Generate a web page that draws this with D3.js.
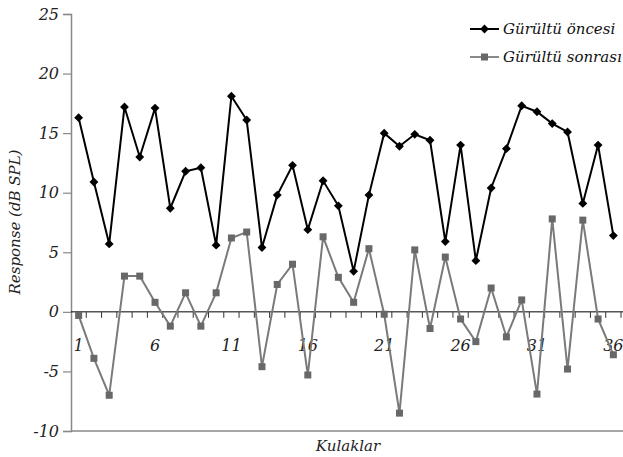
<!DOCTYPE html>
<html>
<head>
<meta charset="utf-8">
<script src="https://cdn.jsdelivr.net/npm/d3@7"></script>
<style>
  body { margin: 0; background: #fff; }
  svg text { font-family: "DejaVu Serif", serif !important; font-style: italic; }
</style>
</head>
<body>
<div id="chart"></div>
<script>
// ears 1..36
const kulaklar = d3.range(1, 37);
const oncesi = [16.3, 10.9, 5.7, 17.2, 13.0, 17.1, 8.7, 11.8, 12.1, 5.6,
  18.1, 16.1, 5.4, 9.8, 12.3, 6.9, 11.0, 8.9, 3.4, 9.8,
  15.0, 13.9, 14.9, 14.4, 5.9, 14.0, 4.3, 10.4, 13.7, 17.3,
  16.8, 15.8, 15.1, 9.1, 14.0, 6.4];
const sonrasi = [-0.3, -3.9, -7.0, 3.0, 3.0, 0.8, -1.2, 1.6, -1.2, 1.6,
  6.2, 6.7, -4.6, 2.3, 4.0, -5.3, 6.3, 2.9, 0.8, 5.3,
  -0.2, -8.5, 5.2, -1.4, 4.6, -0.6, -2.5, 2.0, -2.1, 1.0,
  -6.9, 7.8, -4.8, 7.7, -0.6, -3.6];
const yTicks = [25, 20, 15, 10, 5, 0, -5, -10];
const xLabels = [1, 6, 11, 16, 21, 26, 31, 36];
const seriesNames = ["Gürültü öncesi", "Gürültü sonrası"];

const W = 623, H = 457;
const svg = d3.select("#chart").append("svg")
  .attr("width", W).attr("height", H);

const x = d3.scaleBand().domain(kulaklar).range([71, 621]);
const y = d3.scaleLinear().domain([-10, 25]).range([431, 14]);
const grey = "#686868", greyLine = "#7a7a7a";

// y axis
svg.append("g")
  .attr("transform", "translate(71,0)")
  .call(d3.axisLeft(y).tickValues(yTicks).tickSize(8).tickPadding(4)
    .tickFormat(d => d))
  .call(g => {
    g.attr("font-family", null);
    g.select(".domain").attr("stroke", "#888").attr("stroke-width", 1.5);
    g.selectAll(".tick line").attr("stroke", "#888").attr("stroke-width", 1.2);
    g.selectAll(".tick text").attr("font-size", 16).attr("fill", "#222");
  });

// bottom frame line
svg.append("line")
  .attr("x1", 71).attr("x2", W).attr("y1", y(-10)).attr("y2", y(-10))
  .attr("stroke", "#888").attr("stroke-width", 1.5);

// zero line with category ticks
svg.append("line")
  .attr("x1", 71).attr("x2", W).attr("y1", y(0)).attr("y2", y(0))
  .attr("stroke", "#000").attr("stroke-width", 1);
svg.selectAll(".ctick")
  .data(kulaklar)
  .enter().append("line")
  .attr("class", "ctick")
  .attr("x1", d => x(d) + x.bandwidth())
  .attr("x2", d => x(d) + x.bandwidth())
  .attr("y1", y(0)).attr("y2", y(0) + 6)
  .attr("stroke", "#333").attr("stroke-width", 1);

svg.selectAll(".xlab")
  .data(xLabels)
  .enter().append("text")
  .attr("class", "xlab")
  .attr("x", d => x(d) + x.bandwidth() / 2)
  .attr("y", y(0) + 39)
  .attr("text-anchor", "middle")
  .attr("font-size", 16).attr("fill", "#222")
  .text(d => d);

const cx = d => x(d) + x.bandwidth() / 2;
const line = d3.line().x((d, i) => cx(kulaklar[i])).y(d => y(d));

// after noise (grey squares)
svg.append("path").datum(sonrasi)
  .attr("d", line).attr("fill", "none")
  .attr("stroke", greyLine).attr("stroke-width", 2);
svg.selectAll(".sq")
  .data(sonrasi)
  .enter().append("rect")
  .attr("class", "sq")
  .attr("x", (d, i) => cx(kulaklar[i]) - 3.5)
  .attr("y", d => y(d) - 3.5)
  .attr("width", 7).attr("height", 7)
  .attr("fill", grey);

// before noise (black diamonds)
const diamond = d3.symbol().type(d3.symbolDiamond2).size(50);
svg.append("path").datum(oncesi)
  .attr("d", line).attr("fill", "none")
  .attr("stroke", "#000").attr("stroke-width", 2);
svg.selectAll(".dm")
  .data(oncesi)
  .enter().append("path")
  .attr("class", "dm")
  .attr("d", diamond)
  .attr("transform", (d, i) => "translate(" + cx(kulaklar[i]) + "," + y(d) + ")")
  .attr("fill", "#000");

// legend
const leg = svg.append("g");
[0, 1].forEach(i => {
  const ly = 29 + i * 28;
  const col = i === 0 ? "#000" : grey;
  leg.append("line")
    .attr("x1", 470).attr("x2", 499).attr("y1", ly).attr("y2", ly)
    .attr("stroke", i === 0 ? "#000" : "#8a8a8a").attr("stroke-width", 2);
  if (i === 0) {
    leg.append("path").attr("d", diamond)
      .attr("transform", "translate(484.5," + ly + ")").attr("fill", col);
  } else {
    leg.append("rect").attr("x", 481).attr("y", ly - 3.5)
      .attr("width", 7).attr("height", 7).attr("fill", col);
  }
  leg.append("text")
    .attr("x", 503).attr("y", ly + 5)
    .attr("font-size", 15).attr("fill", "#111")
    .text(seriesNames[i]);
});

// axis titles
svg.append("text")
  .attr("transform", "translate(20,222) rotate(-90)")
  .attr("text-anchor", "middle")
  .attr("font-size", 15).attr("fill", "#222")
  .text("Response (dB SPL)");

svg.append("text")
  .attr("x", 348).attr("y", 451)
  .attr("text-anchor", "middle")
  .attr("font-size", 15).attr("fill", "#222")
  .text("Kulaklar");
</script>
</body>
</html>
